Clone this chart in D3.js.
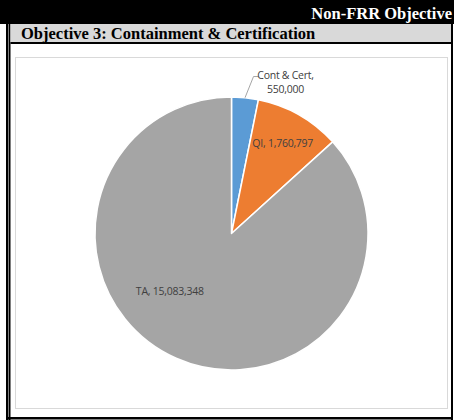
<!DOCTYPE html>
<html>
<head>
<meta charset="utf-8">
<script src="https://cdn.jsdelivr.net/npm/d3@7"></script>
<style>
  html, body { margin: 0; padding: 0; background: #fff; }
  svg { display: block; }
</style>
</head>
<body>
<svg id="chart"></svg>
<script>
const categories = ['Cont & Cert', 'QI', 'TA'];
const amounts = [550000, 1760797, 15083348];
const sliceColors = ['#5b9bd5', '#ed7d31', '#a5a5a5'];

const width = 454;
const height = 420;

const svg = d3.select('#chart')
  .attr('width', width)
  .attr('height', height);

// outer frame
svg.append('rect').attr('x', 0).attr('y', 0).attr('width', width).attr('height', 24).attr('fill', '#000');
svg.append('text')
  .attr('x', 452).attr('y', 19)
  .attr('text-anchor', 'end')
  .attr('font-family', '"Liberation Serif", "Times New Roman", serif')
  .attr('font-weight', 'bold')
  .attr('font-size', 16.5)
  .attr('fill', '#fff')
  .text('Non-FRR Objective');

svg.append('rect').attr('x', 6).attr('y', 0).attr('width', 2.5).attr('height', 420).attr('fill', '#000');
svg.append('rect').attr('x', 9).attr('y', 24).attr('width', 1.5).attr('height', 396).attr('fill', '#000');
svg.append('rect').attr('x', 451).attr('y', 24).attr('width', 2).attr('height', 396).attr('fill', '#000');
svg.append('rect').attr('x', 6).attr('y', 417).attr('width', 447).attr('height', 2.5).attr('fill', '#000');

// header band
svg.append('rect').attr('x', 10.5).attr('y', 24).attr('width', 440.5).attr('height', 18).attr('fill', '#d9d9d9');
svg.append('rect').attr('x', 10.5).attr('y', 42).attr('width', 440.5).attr('height', 2).attr('fill', '#000');
svg.append('text')
  .attr('x', 21).attr('y', 38.5)
  .attr('font-family', '"Liberation Serif", "Times New Roman", serif')
  .attr('font-weight', 'bold')
  .attr('font-size', 16.5)
  .attr('fill', '#000')
  .text('Objective 3: Containment & Certification');

// chart area
svg.append('rect')
  .attr('x', 15.5).attr('y', 57.5)
  .attr('width', 432).attr('height', 351)
  .attr('fill', '#fff')
  .attr('stroke', '#d9d9d9')
  .attr('stroke-width', 1);

const cx = 231.5;
const cy = 233.5;
const radius = 136.5;

const pie = d3.pie().sort(null).value(d => d.value);
const arcs = pie(categories.map((c, i) => ({ name: c, value: amounts[i], color: sliceColors[i] })));

const arc = d3.arc().innerRadius(0).outerRadius(radius);

const g = svg.append('g').attr('transform', `translate(${cx},${cy})`);

g.selectAll('path.slice')
  .data(arcs)
  .join('path')
  .attr('class', 'slice')
  .attr('d', arc)
  .attr('fill', d => d.data.color)
  .attr('stroke', '#fff')
  .attr('stroke-width', 1.5)
  .attr('stroke-linejoin', 'round');

const fmt = d3.format(',');
const labelFont = '"Open Sans", "Noto Sans", sans-serif';

// label placement (like excel "best fit")
const polar = (a, r) => [r * Math.sin(a), -r * Math.cos(a)];

arcs.forEach((d, i) => {
  const mid = (d.startAngle + d.endAngle) / 2;
  if (i === 0) {
    // outside with leader line
    const p0 = polar(mid, radius);
    const p1 = polar(mid + 0.04, radius + 22);
    const p2 = [p1[0] + 5, p1[1]];
    g.append('path')
      .attr('d', d3.line()([p0, p1, p2]))
      .attr('fill', 'none')
      .attr('stroke', '#a6a6a6')
      .attr('stroke-width', 1);
    const t = g.append('text')
      .attr('font-family', labelFont)
      .attr('font-size', 10.5)
      .attr('letter-spacing', -0.25)
      .attr('fill', '#404040')
      .attr('text-anchor', 'middle');
    t.append('tspan').attr('x', p2[0] + 27).attr('y', p2[1] + 2).text(d.data.name + ',');
    t.append('tspan').attr('x', p2[0] + 27).attr('y', p2[1] + 16).text(fmt(d.data.value));
  } else {
    const a = i === 1 ? mid : mid + 0.4;
    const r = i === 1 ? radius * 0.76 : radius * 0.62;
    const p = polar(a, r);
    g.append('text')
      .attr('x', p[0]).attr('y', p[1] + 4)
      .attr('text-anchor', 'middle')
      .attr('font-family', labelFont)
      .attr('font-size', 10.5)
      .attr('letter-spacing', -0.25)
      .attr('fill', '#404040')
      .text(`${d.data.name}, ${fmt(d.data.value)}`);
  }
});
</script>
</body>
</html>
